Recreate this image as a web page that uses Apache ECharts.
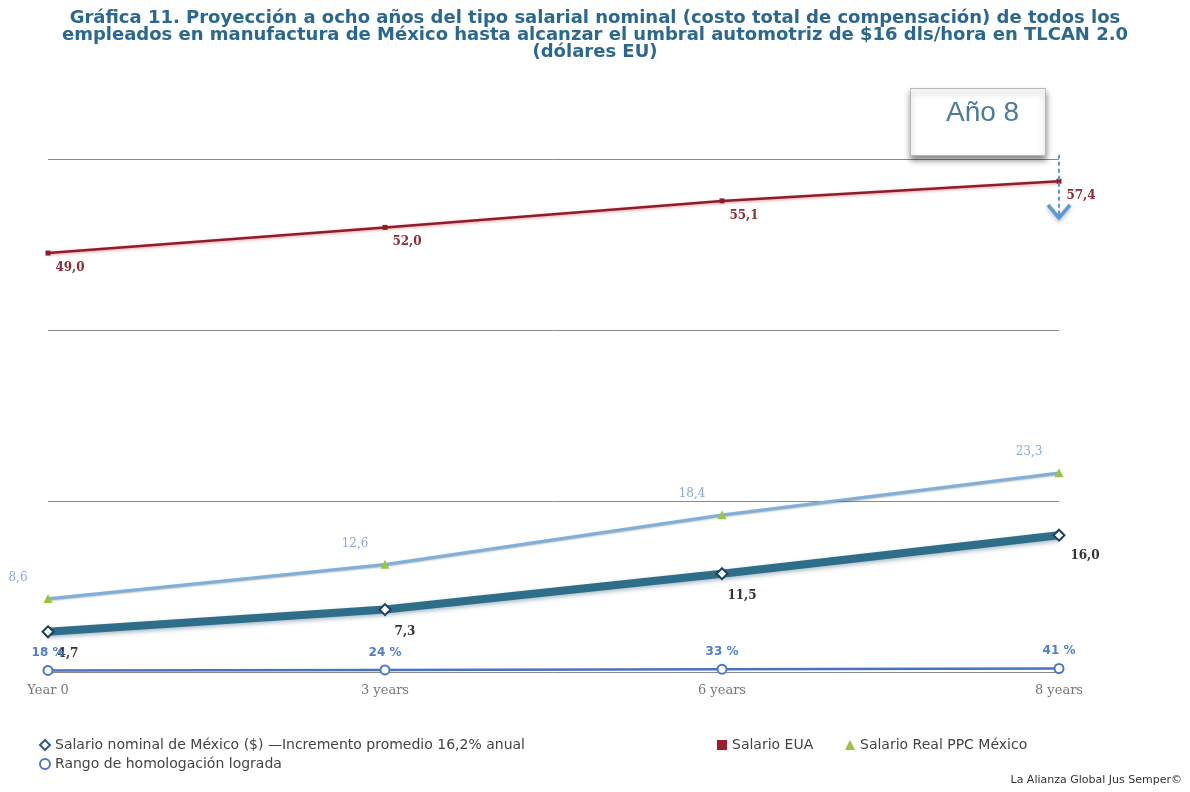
<!DOCTYPE html>
<html>
<head>
<meta charset="utf-8">
<script src="https://cdn.jsdelivr.net/npm/echarts@6/dist/echarts.min.js"></script>
<style>
html,body{margin:0;padding:0;background:#fff;}
#chart{width:1190px;height:792px;}
</style>
</head>
<body>
<div id="chart"></div>
<script>
var categories = ['Year 0', '3 years', '6 years', '8 years'];
var salarioNominalMexico = [4.7, 7.3, 11.5, 16.0];
var salarioEUA = [49.0, 52.0, 55.1, 57.4];
var salarioRealPPC = [8.6, 12.6, 18.4, 23.3];
var rangoHomologacion = [0.18, 0.24, 0.33, 0.41];
var seriesNames = [
  'Salario nominal de México ($) —Incremento promedio 16,2% anual',
  'Salario EUA',
  'Salario Real PPC México',
  'Rango de homologación lograda'
];
var titleText = 'Gráfica 11. Proyección a ocho años del tipo salarial nominal (costo total de compensación) de todos los\nempleados en manufactura de México hasta alcanzar el umbral automotriz de $16 dls/hora en TLCAN 2.0\n(dólares EU)';
var yTicks = [0, 20, 40, 60];
var boxLabel = 'Año 8';
var sourceText = 'La Alianza Global Jus Semper©';
var arrowRange = [60.5, 53.1];

function fmt(v){ return v.toFixed(1).replace('.', ','); }
function pct(v){ return Math.round(v*100) + ' %'; }

var chart = echarts.init(document.getElementById('chart'));
var serif = '"DejaVu Serif", serif';
var legendText = { fontFamily: '"DejaVu Sans", sans-serif', fontSize: 14, color: '#444' };
var legendIcons = [
  { icon: 'diamond', itemStyle: { color: '#fff', borderColor: '#3b5a78', borderWidth: 2 } },
  { icon: 'rect', itemStyle: { color: '#a01c2c', borderWidth: 0 } },
  { icon: 'triangle', itemStyle: { color: '#9bc43f', borderWidth: 0 } },
  { icon: 'circle', itemStyle: { color: '#fff', borderColor: '#4a78c8', borderWidth: 2 } }
];
var legendPos = [[34, 733], [712, 733], [840, 733], [34, 752]];
var legends = seriesNames.map(function(n, i){
  return {
    left: legendPos[i][0], top: legendPos[i][1],
    itemWidth: 10, itemHeight: 10, itemGap: 10,
    textStyle: legendText,
    data: [{ name: n, icon: legendIcons[i].icon, itemStyle: legendIcons[i].itemStyle }]
  };
});

var lastIdx = categories.length - 1;

var option = {
  animation: false,
  backgroundColor: '#fff',
  title: {
    text: titleText,
    left: 'center',
    top: 5,
    textStyle: {
      fontFamily: '"DejaVu Sans", sans-serif',
      fontSize: 18,
      fontWeight: 'bold',
      color: '#2a6890',
      lineHeight: 17
    }
  },
  grid: { left: 48, right: 131, top: 159, bottom: 120, containLabel: false },
  xAxis: {
    type: 'category',
    data: categories,
    boundaryGap: false,
    axisLine: { show: false },
    axisTick: { show: false },
    axisLabel: { color: '#777', fontFamily: serif, fontSize: 13, margin: 12 }
  },
  yAxis: {
    type: 'value',
    min: yTicks[0],
    max: yTicks[yTicks.length - 1],
    interval: yTicks[1] - yTicks[0],
    axisLabel: { show: false },
    axisLine: { show: false },
    axisTick: { show: false },
    splitLine: { lineStyle: { color: '#8a8a8a', width: 1 } }
  },
  legend: legends,
  series: [
    {
      name: seriesNames[1],
      type: 'line',
      data: salarioEUA,
      symbol: 'rect',
      symbolSize: 5,
      z: 3,
      itemStyle: { color: '#8e1d2b' },
      lineStyle: { color: '#8e1d2b', width: 2.5, shadowColor: 'rgba(230,80,90,0.6)', shadowBlur: 3, shadowOffsetY: 1 },
      label: {
        show: true, position: 'bottom', offset: [22, 0], distance: 6,
        fontFamily: serif, fontSize: 12, fontWeight: 'bold', color: '#8e2b38',
        formatter: function(p){ return fmt(p.value); }
      }
    },
    {
      name: seriesNames[2],
      type: 'line',
      data: salarioRealPPC,
      symbol: 'triangle',
      symbolSize: 9,
      z: 3,
      itemStyle: { color: '#9bc43f' },
      lineStyle: { color: '#7eb0dc', width: 2.5, shadowColor: 'rgba(40,80,110,0.6)', shadowBlur: 2, shadowOffsetY: 1 },
      label: {
        show: true, position: 'top', offset: [-30, -4], distance: 6,
        fontFamily: serif, fontSize: 12, color: '#8aa8d8',
        formatter: function(p){ return fmt(p.value); }
      }
    },
    {
      name: seriesNames[0],
      type: 'line',
      data: salarioNominalMexico.map(function(v, i){
        return i === salarioNominalMexico.length - 1
          ? { value: v, label: { offset: [26, 2] } }
          : v;
      }),
      symbol: 'diamond',
      symbolSize: 11,
      z: 4,
      itemStyle: { color: '#fff', borderColor: '#1f3f5a', borderWidth: 2 },
      lineStyle: { color: '#2e6e88', width: 8, shadowColor: 'rgba(0,60,90,0.35)', shadowBlur: 4, shadowOffsetY: 2 },
      label: {
        show: true, position: 'bottom', offset: [20, 4], distance: 6,
        fontFamily: serif, fontSize: 12, fontWeight: 'bold', color: '#333',
        formatter: function(p){ return fmt(p.value); }
      }
    },
    {
      name: seriesNames[3],
      type: 'line',
      data: rangoHomologacion,
      symbol: 'emptyCircle',
      symbolSize: 9,
      z: 5,
      itemStyle: { color: '#4a78c8', borderColor: '#4a78c8', borderWidth: 2.5 },
      lineStyle: { color: '#4a73be', width: 2.5 },
      label: {
        show: true, position: 'top', distance: 6,
        fontFamily: '"DejaVu Sans", sans-serif', fontSize: 12, fontWeight: 'bold', color: '#4d7fcc',
        formatter: function(p){ return pct(p.value); }
      }
    }
  ],
  graphic: [
    {
      id: 'box',
      type: 'rect',
      left: 910, top: 88,
      shape: { width: 135, height: 67 },
      style: { fill: '#fff', stroke: '#b8b8b8', lineWidth: 1, shadowColor: 'rgba(0,0,0,0.45)', shadowBlur: 6, shadowOffsetY: 4 },
      z: 10
    },
    {
      id: 'boxText',
      type: 'text',
      left: 946, top: 99,
      style: { text: boxLabel, font: '28px "Liberation Sans", sans-serif', fill: '#4b7c99' },
      z: 11
    },
    {
      id: 'source',
      type: 'text',
      right: 8, bottom: 6,
      style: { text: sourceText, font: '11px "DejaVu Sans", sans-serif', fill: '#333' },
      z: 11
    }
  ]
};
chart.setOption(option);

// Annotation arrow under the "Año 8" box, positioned through the chart's own scales
var pTop = chart.convertToPixel({ gridIndex: 0 }, [lastIdx, arrowRange[0]]);
var pBot = chart.convertToPixel({ gridIndex: 0 }, [lastIdx, arrowRange[1]]);
chart.setOption({
  graphic: [
    {
      id: 'arrowLine',
      type: 'line',
      shape: { x1: pTop[0], y1: pTop[1], x2: pBot[0], y2: pBot[1] - 2 },
      style: { stroke: '#5b9bd5', lineWidth: 2, lineDash: [4, 3] },
      z: 12
    },
    {
      id: 'arrowHead',
      type: 'polyline',
      shape: { points: [[pBot[0] - 11, pBot[1] - 13], [pBot[0], pBot[1]], [pBot[0] + 11, pBot[1] - 13]] },
      style: { stroke: '#5b9bd5', lineWidth: 3.5, fill: null, shadowColor: 'rgba(0,0,0,0.25)', shadowBlur: 4, shadowOffsetY: 2 },
      z: 12
    }
  ]
});
</script>
</body>
</html>
